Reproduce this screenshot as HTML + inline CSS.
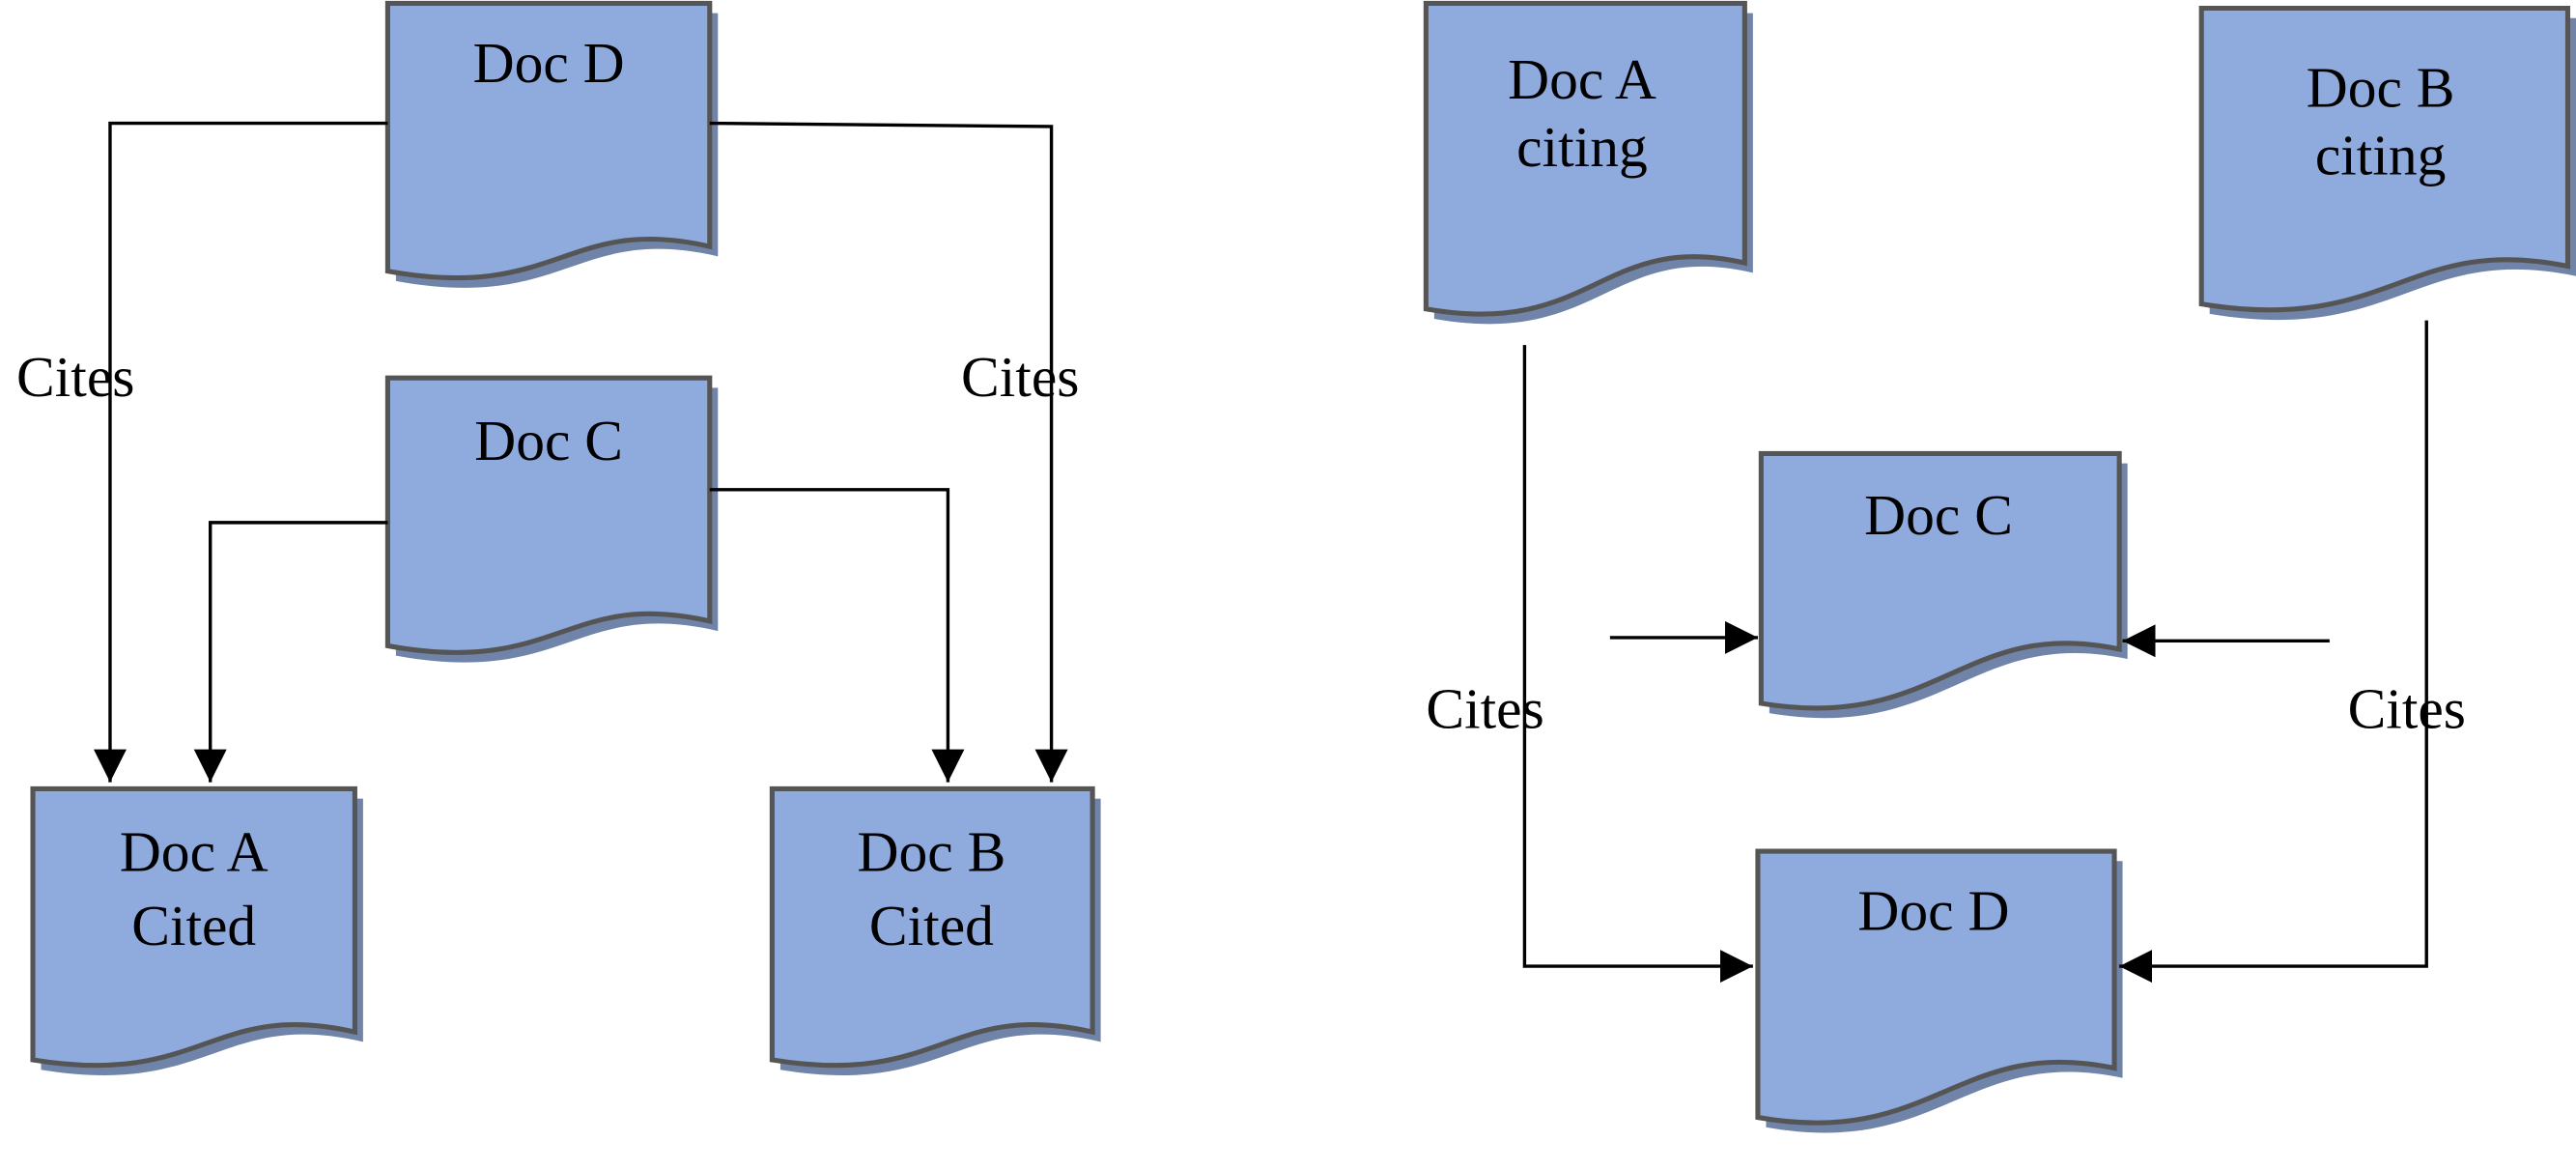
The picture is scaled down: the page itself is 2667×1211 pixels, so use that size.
<!DOCTYPE html>
<html><head><style>html,body{margin:0;padding:0;background:#fff}svg{display:block}</style></head>
<body>
<svg width="2667" height="1211" viewBox="0 0 1568 712" preserveAspectRatio="none" xmlns="http://www.w3.org/2000/svg">
<defs>
<marker id="ar" viewBox="0 0 10 10" refX="10" refY="5" markerWidth="20" markerHeight="20" markerUnits="userSpaceOnUse" orient="auto"><path d="M0,0 L10,5 L0,10 z" fill="#000"/></marker>
</defs>
<g font-family="'Liberation Serif', serif" font-size="36" fill="#000">
<!-- shapes: shadow then doc -->
<g id="docs">
</g>
</g>
<script>
</script>
<g stroke="#000" stroke-width="2" fill="none">
</g>
<!-- Left diagram -->
<g fill="#6f84a8">
<path d="M241,8 H437 V156 C350,136 345,190 241,171 Z"/>
<path d="M241,236 H437 V384 C350,364 345,418 241,399 Z"/>
<path d="M25,486 H221 V634 C134,614 129,668 25,651 Z"/>
<path d="M475,486 H670 V634 C583,614 578,668 475,651 Z"/>
<path d="M873,8 H1067 V166 C980,146 975,212 873,194 Z"/>
<path d="M1345,11 H1568 V168 C1470,148 1460,210 1345,191 Z"/>
<path d="M1077,282 H1295 V401 C1200,381 1185,452 1077,434 Z"/>
<path d="M1075,524 H1292 V656 C1197,636 1182,705 1075,686 Z"/>
</g>
<g fill="#8faadc" stroke="#555" stroke-width="3">
<path d="M236,2 H432 V150 C345,130 340,184 236,165 Z"/>
<path d="M236,230 H432 V378 C345,358 340,412 236,393 Z"/>
<path d="M20,480 H216 V628 C129,608 124,662 20,645 Z"/>
<path d="M470,480 H665 V628 C578,608 573,662 470,645 Z"/>
<path d="M868,2 H1062 V160 C975,140 970,206 868,188 Z"/>
<path d="M1340,5 H1563 V162 C1465,142 1455,204 1340,185 Z"/>
<path d="M1072,276 H1290 V395 C1195,375 1180,446 1072,428 Z"/>
<path d="M1070,518 H1287 V650 C1192,630 1177,699 1070,680 Z"/>
</g>
<g stroke="#000" stroke-width="2" fill="none">
<polyline points="236,75 67,75 67,476" marker-end="url(#ar)"/>
<polyline points="432,75 640,77 640,476" marker-end="url(#ar)"/>
<polyline points="236,318 128,318 128,476" marker-end="url(#ar)"/>
<polyline points="432,298 577,298 577,476" marker-end="url(#ar)"/>
<polyline points="928,210 928,588 1067,588" marker-end="url(#ar)"/>
<polyline points="1477,195 1477,588 1290,588" marker-end="url(#ar)"/>
<line x1="980" y1="388" x2="1070" y2="388" marker-end="url(#ar)"/>
<line x1="1418" y1="390" x2="1292" y2="390" marker-end="url(#ar)"/>
</g>
<g font-family="'Liberation Serif', serif" font-size="35" fill="#000" text-anchor="middle">
<text x="334" y="50">Doc D</text>
<text x="334" y="280">Doc C</text>
<text x="118" y="530">Doc A</text>
<text x="118" y="575">Cited</text>
<text x="567" y="530">Doc B</text>
<text x="567" y="575">Cited</text>
<text x="46" y="241">Cites</text>
<text x="621" y="241">Cites</text>
<text x="963" y="60">Doc A</text>
<text x="963" y="101">citing</text>
<text x="1449" y="65">Doc B</text>
<text x="1449" y="106">citing</text>
<text x="1180" y="325">Doc C</text>
<text x="1177" y="566">Doc D</text>
<text x="904" y="443">Cites</text>
<text x="1465" y="443">Cites</text>
</g>
</svg>
</body></html>
